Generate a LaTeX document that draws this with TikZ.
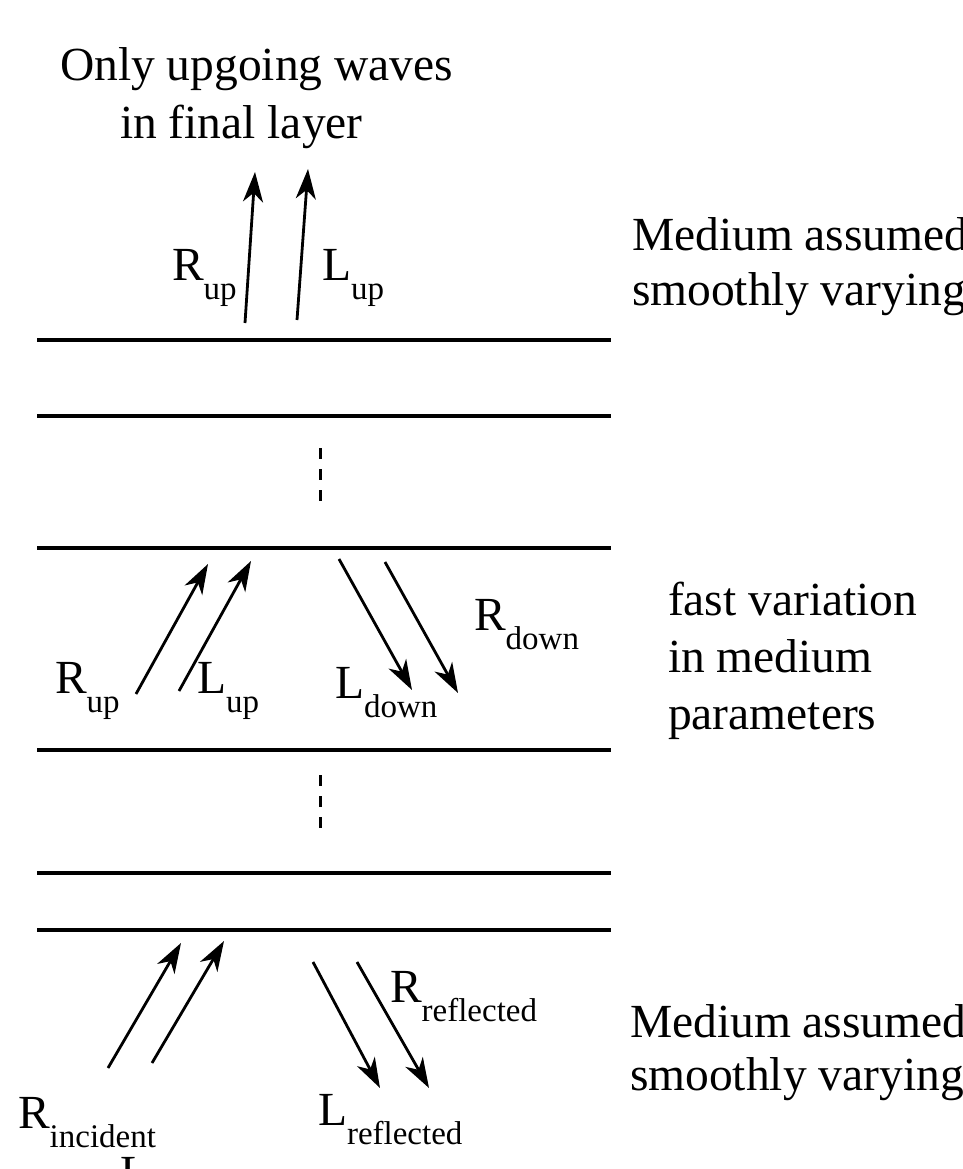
\documentclass[tikz,border=0pt]{standalone}
\usepackage{fontspec}
\setmainfont{Liberation Serif}
\usetikzlibrary{arrows.meta}
\newcommand{\lblsub}[2]{#1{\fontsize{33}{33}\selectfont\raisebox{-19pt}{#2}}}
\begin{document}
\begin{tikzpicture}[x=1pt,y=-1pt,
  txt/.style={anchor=base west,inner sep=0pt,outer sep=0pt,font=\fontsize{47.5}{57}\selectfont},
  layer/.style={line width=3.2pt},
  wave/.style={line width=2.8pt,-{Stealth[length=30pt,width=20pt,inset=9pt]}},
  gap/.style={line width=3pt,dash pattern=on 11pt off 10pt}]
\useasboundingbox (0,0) rectangle (963,1169);
% layers
\foreach \n/\y in {a/340,b/416,c/548,d/750,e/873,f/930}{
  \coordinate (\n1) at (37,\y); \coordinate (\n2) at (611,\y);
  \draw[layer] (\n1) -- (\n2);
}
% dashed gaps
\coordinate (g1) at (320,448); \coordinate (g2) at (320,503);
\draw[gap] (g1) -- (g2);
\coordinate (g3) at (320,775); \coordinate (g4) at (320,838);
\draw[gap] (g3) -- (g4);
% top text
\node[txt] (t1) at (60,81) {Only upgoing waves};
\node[txt] (t2) at (120,139) {in final layer};
% top arrows
\coordinate (ta1) at (245,323); \coordinate (tb1) at (255,172);
\coordinate (ta2) at (297,320); \coordinate (tb2) at (308,169);
\draw[wave] (ta1) -- (tb1);
\draw[wave] (ta2) -- (tb2);
\node[txt] (ru1) at (172,280) {\lblsub{R}{up}};
\node[txt] (lu1) at (322,280) {\lblsub{L}{up}};
\node[txt] (m1) at (632,250) {Medium assumed};
\node[txt] (m2) at (632,305) {smoothly varying};
% middle arrows
\coordinate (ma1) at (136,694); \coordinate (mb1) at (208,564);
\coordinate (ma2) at (179,691); \coordinate (mb2) at (251,561);
\coordinate (mc1) at (339,559); \coordinate (md1) at (412,690);
\coordinate (mc2) at (385,562); \coordinate (md2) at (458,693);
\draw[wave] (ma1) -- (mb1);
\draw[wave] (ma2) -- (mb2);
\draw[wave] (mc1) -- (md1);
\draw[wave] (mc2) -- (md2);
\node[txt] (ru2) at (55,693) {\lblsub{R}{up}};
\node[txt] (lu2) at (197,693) {\lblsub{L}{up}};
\node[txt] (ld2) at (335,698) {\lblsub{L}{down}};
\node[txt] (rd2) at (474,630) {\lblsub{R}{down}};
\node[txt] (f1) at (668,615) {fast variation};
\node[txt] (f2) at (668,672) {in medium};
\node[txt] (f3) at (668,729) {parameters};
% bottom arrows
\coordinate (ba1) at (108,1068); \coordinate (bb1) at (181,943);
\coordinate (ba2) at (152,1063); \coordinate (bb2) at (224,941);
\coordinate (bc1) at (313,962); \coordinate (bd1) at (380,1088);
\coordinate (bc2) at (357,962); \coordinate (bd2) at (429,1088);
\draw[wave] (ba1) -- (bb1);
\draw[wave] (ba2) -- (bb2);
\draw[wave] (bc1) -- (bd1);
\draw[wave] (bc2) -- (bd2);
\node[txt] (ri3) at (18,1128) {\lblsub{R}{incident}};
\node[txt] (li3) at (120,1188) {L};
\node[txt] (rr3) at (390,1002) {\lblsub{R}{reflected}};
\node[txt] (lr3) at (318,1125) {\lblsub{L}{reflected}};
\node[txt] (m3) at (630,1037) {Medium assumed};
\node[txt] (m4) at (630,1090) {smoothly varying};
\end{tikzpicture}
\end{document}
